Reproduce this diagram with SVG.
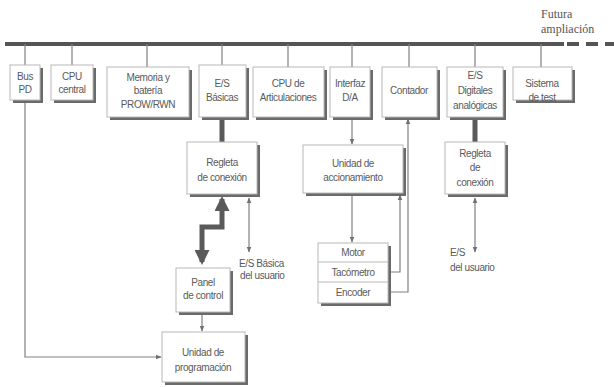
<svg xmlns="http://www.w3.org/2000/svg" width="614" height="387" viewBox="0 0 614 387">
<defs>
<style>
.box{fill:#fff;stroke:#b8b8b8;stroke-width:1}
.sh{fill:#6a6a6a}
.t{font-family:"Liberation Sans",Arial,sans-serif;font-size:10px;fill:#5a5a5a;text-anchor:middle;letter-spacing:-0.4px}
.tl{font-family:"Liberation Sans",Arial,sans-serif;font-size:10px;fill:#5a5a5a;letter-spacing:-0.4px}
.ser{font-family:"Liberation Serif","Times New Roman",serif;font-size:12px;fill:#555}
.ln{fill:none;stroke:#808080;stroke-width:1.2}
.thick{fill:none;stroke:#5a5a5a;stroke-width:5}
</style>
<marker id="a" viewBox="0 0 10 10" refX="9" refY="5" markerWidth="6" markerHeight="6" orient="auto-start-reverse" markerUnits="userSpaceOnUse"><path d="M0,1 L10,5 L0,9 z" fill="#707070"/></marker>
<marker id="ab" viewBox="0 0 10 10" refX="8" refY="5" markerWidth="3" markerHeight="3" orient="auto-start-reverse"><path d="M0,0 L10,5 L0,10 z" fill="#5a5a5a"/></marker>
</defs>

<g id="connectors">
<line x1="5" y1="44" x2="564" y2="44" stroke="#555" stroke-width="4"/>
<line x1="567" y1="44" x2="614" y2="44" stroke="#555" stroke-width="4" stroke-dasharray="12,7"/>
<g class="ln">
<line x1="25" y1="44" x2="25" y2="65"/>
<line x1="72" y1="44" x2="72" y2="65"/>
<line x1="147" y1="44" x2="147" y2="67"/>
<line x1="222" y1="44" x2="222" y2="65"/>
<line x1="288" y1="44" x2="288" y2="67"/>
<line x1="352" y1="44" x2="352" y2="67"/>
<line x1="409" y1="44" x2="409" y2="67"/>
<line x1="475" y1="44" x2="475" y2="67"/>
<line x1="541" y1="44" x2="541" y2="67"/>
<path d="M25,100 V357 H161" marker-end="url(#a)"/>
<line x1="249" y1="198" x2="249" y2="252" marker-start="url(#a)" marker-end="url(#a)"/>
<line x1="202" y1="313" x2="202" y2="331" marker-end="url(#a)"/>
<line x1="352" y1="118" x2="352" y2="144" marker-end="url(#a)"/>
<line x1="352" y1="194" x2="352" y2="242" marker-end="url(#a)"/>
<path d="M388,272 H400 V195" marker-end="url(#a)"/>
<path d="M388,292 H408 V119" marker-end="url(#a)"/>
<line x1="475" y1="198" x2="475" y2="252" marker-start="url(#a)" marker-end="url(#a)"/>
</g>
<line x1="222" y1="117" x2="222" y2="142" stroke="#5a5a5a" stroke-width="5"/>
<line x1="475" y1="117" x2="475" y2="142" stroke="#5a5a5a" stroke-width="5"/>
<path class="thick" d="M222,199 V227 H202 V262" marker-start="url(#ab)" marker-end="url(#ab)"/>
</g>

<text class="ser" x="541" y="18">Futura</text>
<text class="ser" x="541" y="33">ampliación</text>

<g id="bus-pd"><rect class="sh" x="13" y="68" width="30" height="35"/><rect class="box" x="10" y="65" width="30" height="35"/><text class="t" x="25" y="80">Bus</text><text class="t" x="25" y="93">PD</text></g>
<g id="cpu-central"><rect class="sh" x="54" y="68" width="42" height="35"/><rect class="box" x="51" y="65" width="42" height="35"/><text class="t" x="72" y="80">CPU</text><text class="t" x="72" y="93">central</text></g>
<g id="memoria"><rect class="sh" x="110" y="70" width="82" height="50"/><rect class="box" x="107" y="67" width="82" height="50"/><text class="t" x="148" y="81">Memoria y</text><text class="t" x="148" y="94">batería</text><text class="t" x="148" y="108">PROW/RWN</text></g>
<g id="es-basicas"><rect class="sh" x="202" y="68" width="47" height="52"/><rect class="box" x="199" y="65" width="47" height="52"/><text class="t" x="222" y="87">E/S</text><text class="t" x="222" y="101">Básicas</text></g>
<g id="cpu-art"><rect class="sh" x="256" y="70" width="71" height="50"/><rect class="box" x="253" y="67" width="71" height="50"/><text class="t" x="288" y="87">CPU de</text><text class="t" x="288" y="101">Articulaciones</text></g>
<g id="interfaz"><rect class="sh" x="333" y="70" width="40" height="50"/><rect class="box" x="330" y="67" width="40" height="50"/><text class="t" x="350" y="87">Interfaz</text><text class="t" x="350" y="101">D/A</text></g>
<g id="contador"><rect class="sh" x="385" y="70" width="55" height="50"/><rect class="box" x="382" y="67" width="55" height="50"/><text class="t" x="409" y="94">Contador</text></g>
<g id="es-digitales"><rect class="sh" x="450" y="70" width="56" height="50"/><rect class="box" x="447" y="67" width="56" height="50"/><text class="t" x="475" y="79">E/S</text><text class="t" x="475" y="94">Digitales</text><text class="t" x="475" y="109">analógicas</text></g>
<g id="sistema-test"><rect class="sh" x="516" y="70" width="59" height="33"/><rect class="box" x="513" y="67" width="59" height="33"/><text class="t" x="542" y="87">Sistema</text><text class="t" x="542" y="101">de test</text></g>

<g id="regleta1"><rect class="sh" x="190" y="145" width="70" height="52"/><rect class="box" x="187" y="142" width="70" height="52"/><text class="t" x="222" y="166">Regleta</text><text class="t" x="222" y="181">de conexión</text></g>
<g id="accionamiento"><rect class="sh" x="306" y="148" width="100" height="48"/><rect class="box" x="303" y="145" width="100" height="48"/><text class="t" x="353" y="167">Unidad de</text><text class="t" x="353" y="181">accionamiento</text></g>
<g id="regleta2"><rect class="sh" x="448" y="145" width="60" height="52"/><rect class="box" x="445" y="142" width="60" height="52"/><text class="t" x="475" y="157">Regleta</text><text class="t" x="475" y="171">de</text><text class="t" x="475" y="186">conexión</text></g>
<g id="motor-block"><rect class="sh" x="321" y="246" width="70" height="60"/><rect class="box" x="318" y="243" width="70" height="60"/><line x1="318" y1="262" x2="388" y2="262" stroke="#b8b8b8"/><line x1="318" y1="282" x2="388" y2="282" stroke="#b8b8b8"/><text class="t" x="353" y="256">Motor</text><text class="t" x="353" y="276">Tacómetro</text><text class="t" x="353" y="296">Encoder</text></g>
<g id="panel"><rect class="sh" x="179" y="271" width="54" height="44"/><rect class="box" x="176" y="268" width="54" height="44"/><text class="t" x="203" y="286">Panel</text><text class="t" x="203" y="299">de control</text></g>
<g id="programacion"><rect class="sh" x="165" y="335" width="83" height="50"/><rect class="box" x="162" y="332" width="83" height="50"/><text class="t" x="203" y="356">Unidad de</text><text class="t" x="203" y="371">programación</text></g>

<g id="labels"><text class="tl" x="239" y="267">E/S Básica</text><text class="tl" x="240" y="279">del usuario</text><text class="tl" x="450" y="256">E/S</text><text class="tl" x="450" y="271">del usuario</text></g>
</svg>
